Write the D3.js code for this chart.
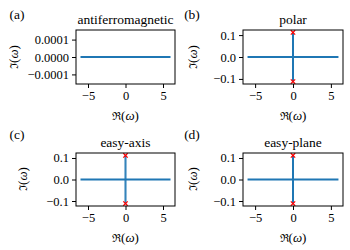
<!DOCTYPE html>
<html>
<head>
<meta charset="utf-8">
<script src="https://cdn.jsdelivr.net/npm/d3@7"></script>
<style>
  body { margin: 0; background: #fff; }
</style>
</head>
<body>
<svg id="fig" width="350" height="250" font-family="Liberation Serif"></svg>
<script>
// panel names and letters
var titles = ["antiferromagnetic", "polar", "easy-axis", "easy-plane"];
var letters = ["(a)", "(b)", "(c)", "(d)"];
// continuous band on the real axis
var bandRe = [-6, 6];
var bandIm = [0, 0];
// unstable branch on imaginary axis (none for antiferromagnetic)
var branchIm = [0, 0.112, 0.112, 0.112];
var branchRe = [0, 0];
// ticks
var xTicks = [-5, 0, 5];
var yTicksSmall = [-0.0001, 0, 0.0001];
var yTicksBig = [-0.1, 0, 0.1];

var blue = "#1f77b4";
var font = "'Liberation Serif', serif";
var svg = d3.select("#fig");

var boxes = [
	{x0: 76, x1: 175, y0: 30, y1: 84, lx: 14, ly: 57},
	{x0: 243, x1: 343, y0: 30, y1: 84, lx: 193, ly: 57},
	{x0: 76, x1: 175, y0: 153, y1: 206, lx: 23, ly: 179},
	{x0: 243, x1: 343, y0: 153, y1: 206, lx: 193, ly: 179}
];
var letterPos = [[17, 19], [192, 19], [17, 139], [192, 139]];

function minus(s) { return s.replace("-", "\u2212"); }

titles.forEach(function(t, i) {
	var b = boxes[i];
	var small = branchIm[i] == 0;
	var x = d3.scaleLinear().domain([-6.6, 6.6]).range([b.x0, b.x1]);
	var y = small
		? d3.scaleLinear().domain([-0.000155, 0.000155]).range([b.y1, b.y0])
		: d3.scaleLinear().domain([-0.1232, 0.1232]).range([b.y1, b.y0]);
	var g = svg.append("g");

	var xAxis = d3.axisBottom(x).tickValues(xTicks).tickSize(4).tickPadding(3)
		.tickFormat(function(d) { return minus(d3.format("d")(d)); });
	var yAxis = d3.axisLeft(y).tickValues(small ? yTicksSmall : yTicksBig).tickSize(4).tickPadding(3)
		.tickFormat(function(d) { return minus(d3.format(small ? ".4f" : ".1f")(d)); });

	g.append("g").attr("transform", "translate(0," + b.y1 + ")").call(xAxis)
		.attr("font-size", 12.5);
	g.append("g").attr("transform", "translate(" + b.x0 + ",0)").call(yAxis)
		.attr("font-size", 12.5);
	g.selectAll(".domain").remove();
	g.selectAll(".tick line").attr("stroke", "#000").attr("stroke-width", 1);
	g.selectAll(".tick text").attr("fill", "#000").style("font-family", font);

	var line = d3.line().x(function(d) { return x(d[0]); }).y(function(d) { return y(d[1]); });

	// band along the real axis
	g.append("path")
		.datum(bandRe.map(function(r, k) { return [r, bandIm[k]]; }))
		.attr("d", line).attr("fill", "none").attr("stroke", blue).attr("stroke-width", 2);

	if (!small) {
		var im = branchIm[i];
		var pts = branchRe.map(function(r, k) { return [r, k == 0 ? -im : im]; });
		g.append("path").datum(pts)
			.attr("d", line).attr("fill", "none").attr("stroke", blue)
			.attr("stroke-width", i == 2 ? 2.8 : 2)
			.attr("stroke-opacity", i == 2 ? 0.55 : 1);
		if (i == 2) {
			g.append("path").datum(pts)
				.attr("d", line).attr("fill", "none").attr("stroke", blue).attr("stroke-width", 0.8);
		}
		pts.forEach(function(p) {
			var cx = x(p[0]), cy = y(p[1]), s = 2.2;
			g.append("path")
				.attr("d", "M" + (cx - s) + "," + (cy - s) + "L" + (cx + s) + "," + (cy + s) +
					"M" + (cx - s) + "," + (cy + s) + "L" + (cx + s) + "," + (cy - s))
				.attr("stroke", "red").attr("stroke-width", 1.2);
		});
	}

	// frame
	g.append("rect").attr("x", b.x0).attr("y", b.y0)
		.attr("width", b.x1 - b.x0).attr("height", b.y1 - b.y0)
		.attr("fill", "none").attr("stroke", "#000").attr("stroke-width", 1);

	g.append("text").attr("x", (b.x0 + b.x1) / 2).attr("y", b.y0 - 6)
		.attr("text-anchor", "middle").style("font-family", font).attr("font-size", 13.5).text(t);
	g.append("text").attr("x", letterPos[i][0]).attr("y", letterPos[i][1])
		.attr("text-anchor", "middle").style("font-family", font).attr("font-size", 13.5).text(letters[i]);

	var xl = g.append("text").attr("x", (b.x0 + b.x1) / 2).attr("y", b.y1 + 36)
		.attr("text-anchor", "middle").style("font-family", font).attr("font-size", 13);
	xl.append("tspan").style("font-family", "'DejaVu Serif', serif").attr("font-size", 11).text("\u211C");
	xl.append("tspan").text("(");
	xl.append("tspan").attr("font-style", "italic").text("\u03C9");
	xl.append("tspan").text(")");

	var yl = g.append("text").attr("transform", "translate(" + (b.lx + 4) + "," + b.ly + ") rotate(-90)")
		.attr("text-anchor", "middle").style("font-family", font).attr("font-size", 13);
	yl.append("tspan").style("font-family", "'DejaVu Serif', serif").attr("font-size", 11).text("\u2111");
	yl.append("tspan").text("(");
	yl.append("tspan").attr("font-style", "italic").text("\u03C9");
	yl.append("tspan").text(")");
});
</script>
</body>
</html>
